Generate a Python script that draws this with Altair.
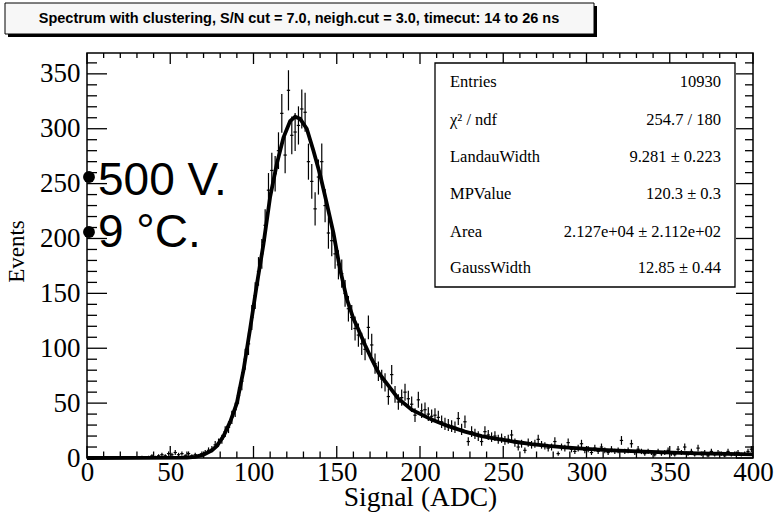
import altair as alt
import pandas as pd

# ---------------- data ----------------
bin_centers = list(range(1, 400, 2))  # 200 bins, width 2 ADC
counts = [
    # 1..31
    0, 0, 0, 0, 0, 0, 0, 0, 0, 0, 0, 0, 0, 0, 0, 0,
    # 33..71
    1, 0, 1, 2, 1, 2, 3, 2, 4, 3, 5, 3, 4, 2, 4, 2, 3, 2, 4, 5,
    # 73..99
    7, 8, 12, 14, 17, 24, 28, 37, 44, 57, 70, 90, 104, 128,
    # 101..149
    148, 170, 186, 212, 244, 262, 259, 280, 314, 276, 335, 294, 297, 303, 318,
    315, 270, 252, 227, 256, 270, 230, 205, 198, 186,
    # 151..199
    176, 168, 150, 136, 128, 118, 112, 104, 99, 119, 103, 86, 79, 72, 69,
    56, 76, 58, 51, 55, 60, 54, 49, 39, 53,
    # 201..249
    43, 44, 40, 38, 39, 37, 33, 31, 30, 29, 28, 36, 26, 33, 15,
    24, 22, 20, 15, 24, 21, 19, 20, 17, 18,
    # 251..299
    16, 17, 21, 14, 10, 13, 7, 14, 12, 13, 17, 12, 11, 9, 10,
    15, 4, 10, 9, 14, 8, 6, 9, 13, 7,
    # 301..349
    8, 5, 9, 6, 10, 7, 5, 8, 6, 7, 16, 6, 7, 13, 5,
    8, 6, 4, 6, 5, 3, 6, 4, 5, 7,
    # 351..399
    4, 3, 8, 5, 10, 4, 6, 3, 9, 4, 5, 2, 6, 3, 5,
    4, 2, 6, 3, 4, 5, 3, 4, 6, 8,
]

fit_x = [0, 60, 65, 70, 75, 78, 82, 86, 90, 94, 98, 102, 106, 110, 114, 118,
         122, 125, 128, 132, 136, 140, 144, 148, 152, 156, 160, 163, 167, 171,
         175, 180, 187, 195, 207, 217, 227, 237, 247, 257, 267, 277, 287, 300,
         315, 327, 347, 367, 385, 400]
fit_y = [0, 0.3, 1, 3, 7, 11, 20, 33, 50, 80, 118, 158, 195, 238, 268, 292,
         307, 311, 309, 300, 280, 258, 232, 205, 172, 145, 127, 117, 103, 90,
         78, 68, 54, 44, 35, 29, 24, 20, 17.3, 14.8, 12.7, 11, 9.7, 8.3,
         7, 6.2, 5.2, 4.3, 3.8, 3.3]

stat_names = ["Entries", "χ² / ndf", "LandauWidth", "MPValue", "Area", "GaussWidth"]
stat_values = ["10930", "254.7 / 180", "9.281 ± 0.223", "120.3 ± 0.3",
               "2.127e+04 ± 2.112e+02", "12.85 ± 0.44"]
title_text = "Spectrum with clustering, S/N cut = 7.0, neigh.cut = 3.0, timecut: 14 to 26 ns"
note_lines = ["500 V.", "9 °C."]

x_major = [0, 50, 100, 150, 200, 250, 300, 350, 400]
x_minor = [v for v in range(10, 400, 10) if v % 50 != 0]
y_major = [0, 50, 100, 150, 200, 250, 300, 350]
y_minor = [v for v in range(10, 370, 10) if v % 50 != 0]

# ---------------- layout ----------------
W, H = 666, 405
SERIF = "Liberation Serif"
SANS = "Liberation Sans"

xs = alt.Scale(domain=[0, 400], nice=False, zero=False)
ys = alt.Scale(domain=[0, 369], nice=False, zero=False)
xaxis = alt.Axis(values=x_major, format="d", ticks=False, domain=False, grid=False,
                 labelFont=SERIF, labelFontSize=27, labelColor="black", labelPadding=1,
                 labelFlush=False, labelOverlap=False,
                 title="Signal (ADC)", titleFont=SERIF, titleFontSize=27.5,
                 titleFontWeight="normal", titleColor="black", titleY=25)
yaxis = alt.Axis(values=y_major, format="d", ticks=False, domain=False, grid=False,
                 labelFont=SERIF, labelFontSize=27, labelColor="black", labelPadding=7,
                 labelFlush=False, labelOverlap=False,
                 title="Events", titleFont=SERIF, titleFontSize=23,
                 titleFontWeight="normal", titleColor="black", titleX=-59, titleY=198)


def X(field):
    return alt.X(field, type="quantitative", scale=xs, axis=xaxis)


def Y(field):
    return alt.Y(field, type="quantitative", scale=ys, axis=yaxis)


hist = pd.DataFrame({"x": bin_centers, "n": counts})
fit = pd.DataFrame({"x": fit_x, "y": fit_y})

base = alt.Chart(hist).transform_calculate(
    lo="datum.n - sqrt(datum.n)", hi="datum.n + sqrt(datum.n)",
    xl="datum.x - 1", xr="datum.x + 1")

vbars = base.mark_rule(color="black", strokeWidth=1.2).encode(
    x=X("x"), y=Y("lo"), y2="hi:Q")
hbars = base.mark_rule(color="black", strokeWidth=1.2).encode(
    x=X("xl"), x2="xr:Q", y=Y("n"))
curve = alt.Chart(fit).mark_line(color="black", strokeWidth=3.8).encode(
    x=X("x"), y=Y("y"))

layers = [vbars, hbars, curve]


# inward ROOT-style ticks
def ticks_y(vals, x0, x1):
    return alt.Chart(pd.DataFrame({"v": vals})).mark_rule(color="black", strokeWidth=1.3).encode(
        y=Y("v"), x=alt.value(x0), x2=alt.value(x1))


def ticks_x(vals, y0, y1):
    return alt.Chart(pd.DataFrame({"v": vals})).mark_rule(color="black", strokeWidth=1.3).encode(
        x=X("v"), y=alt.value(y0), y2=alt.value(y1))


layers += [
    ticks_y(y_major, 0, 20), ticks_y(y_minor, 0, 10),
    ticks_y(y_major, W, W - 17), ticks_y(y_minor, W, W - 8),
    ticks_x(x_major, H, H - 12), ticks_x(x_minor, H, H - 6.5),
    ticks_x(x_major, 0, 11), ticks_x(x_minor, 0, 5),
]

one = pd.DataFrame({"k": [0]})


def label(text, x, y, **kw):
    return alt.Chart(one).mark_text(color="black", **kw).encode(
        x=alt.value(x), y=alt.value(y), text=alt.value(text))


# statistics box
layers.append(alt.Chart(one).mark_rect(fill="white", stroke="black", strokeWidth=1.3).encode(
    x=alt.value(348), x2=alt.value(648), y=alt.value(10), y2=alt.value(234)))
row_y = [29, 67, 104, 141, 179, 215]
for name, val, yy in zip(stat_names, stat_values, row_y):
    layers.append(label(name, 363, yy, font=SERIF, fontSize=16.5, align="left", baseline="middle"))
    layers.append(label(val, 634, yy, font=SERIF, fontSize=16.5, align="right", baseline="middle"))

# title box with shadow
layers.append(alt.Chart(one).mark_rect(fill="black").encode(
    x=alt.value(-79), x2=alt.value(510), y=alt.value(-47), y2=alt.value(-16)))
layers.append(alt.Chart(one).mark_rect(fill="#f7f7f7", stroke="black", strokeWidth=1).encode(
    x=alt.value(-82), x2=alt.value(507), y=alt.value(-50), y2=alt.value(-19)))
layers.append(label(title_text, 212, -34, font=SANS, fontSize=14.5, fontWeight="bold",
                    align="center", baseline="middle"))

# overlay notes with bullets
for txt, dot_y, base_y in zip(note_lines, [124, 179], [142, 194]):
    layers.append(alt.Chart(one).mark_point(shape="circle", filled=True, color="black",
                                            size=140, opacity=1).encode(
        x=alt.value(2), y=alt.value(dot_y)))
    layers.append(label(txt, 11, base_y, font=SANS, fontSize=46, align="left",
                        baseline="alphabetic"))

chart = alt.layer(*layers).properties(
    width=W, height=H,
    autosize=alt.AutoSizeParams(type="none"),
    padding={"left": 87, "top": 53, "right": 25, "bottom": 54},
    background="white",
).configure_view(stroke="black", strokeWidth=1.5)

chart.save("out.html", embed_options={"renderer": "svg", "actions": False})
